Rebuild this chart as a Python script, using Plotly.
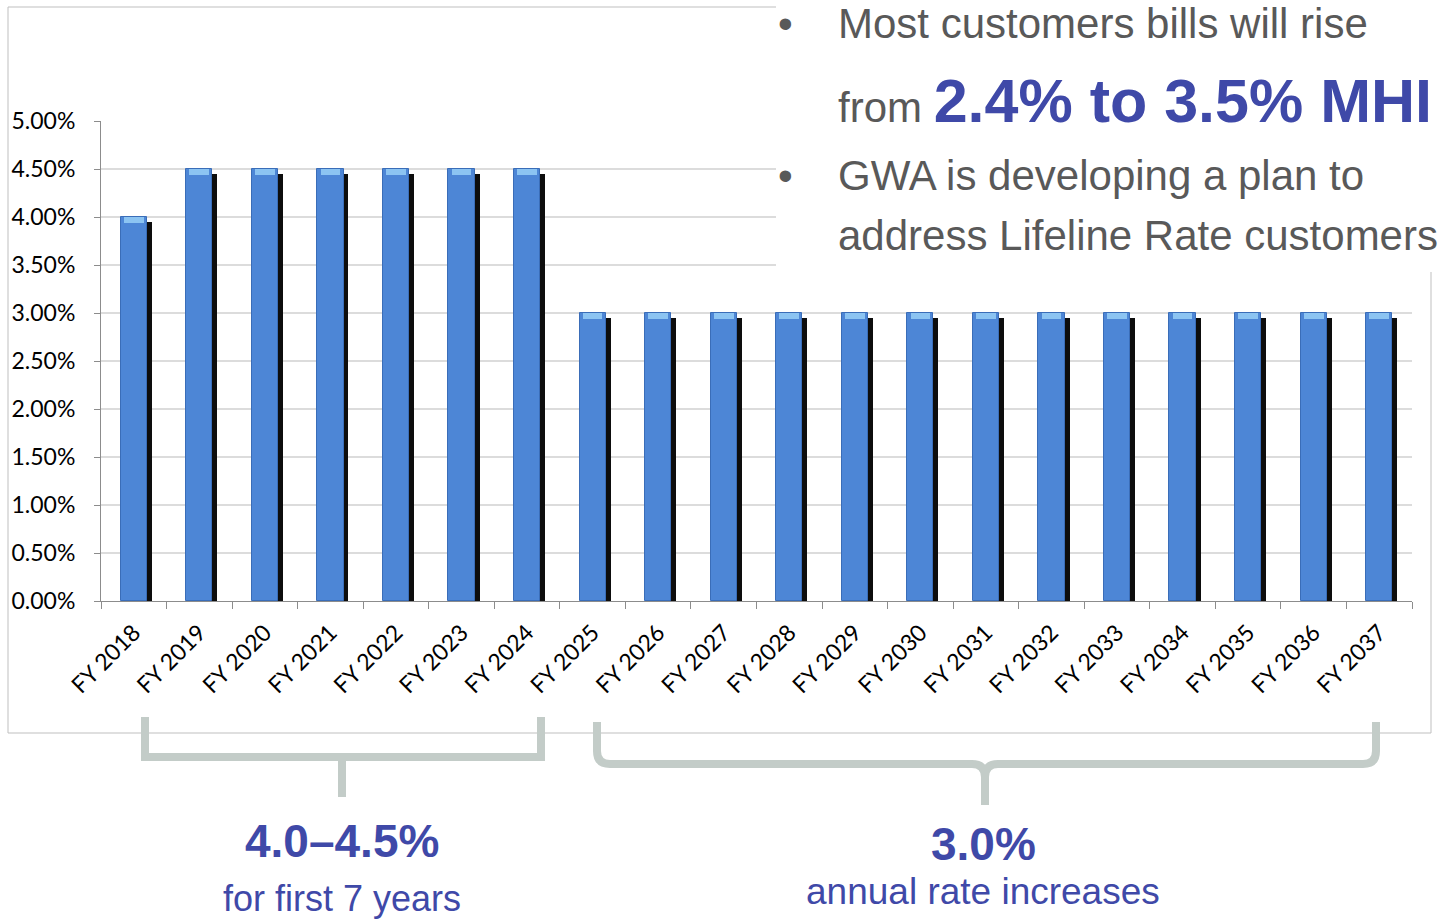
import plotly.graph_objects as go

# ---------------- data ----------------
categories = ["FY 2018", "FY 2019", "FY 2020", "FY 2021", "FY 2022", "FY 2023", "FY 2024",
              "FY 2025", "FY 2026", "FY 2027", "FY 2028", "FY 2029", "FY 2030", "FY 2031",
              "FY 2032", "FY 2033", "FY 2034", "FY 2035", "FY 2036", "FY 2037"]
rate_increase = [4.0, 4.5, 4.5, 4.5, 4.5, 4.5, 4.5,
                 3.0, 3.0, 3.0, 3.0, 3.0, 3.0, 3.0,
                 3.0, 3.0, 3.0, 3.0, 3.0, 3.0]
y_ticks = [0, 0.5, 1.0, 1.5, 2.0, 2.5, 3.0, 3.5, 4.0, 4.5, 5.0]
y_tick_labels = ["0.00%", "0.50%", "1.00%", "1.50%", "2.00%", "2.50%", "3.00%",
                 "3.50%", "4.00%", "4.50%", "5.00%"]

# ---------------- layout helpers (pixel -> paper) ----------------
W, H = 1452, 921
L, R, T, B = 101, 1412, 121, 601


def X(px):
    return (px - L) / (R - L)


def Y(py):
    return (B - py) / (B - T)


SHADOW_DROP = 0.05   # shadow top sits slightly lower (in % units)
CAP = 0.06           # light cap band height

shadow_vals = [v - SHADOW_DROP for v in rate_increase]
cap_base = [v - CAP for v in rate_increase]
cap_h = [CAP for _ in rate_increase]

fig = go.Figure()
# drop shadow
fig.add_trace(go.Bar(x=categories, y=shadow_vals, width=0.40, offset=-0.125,
                     marker=dict(color="#0d0d0d", line=dict(width=0)),
                     hoverinfo="skip", showlegend=False))
# main bars
fig.add_trace(go.Bar(x=categories, y=rate_increase, width=0.40, offset=-0.20,
                     marker=dict(color="#4d86d6", line=dict(color="#3a6db8", width=1)),
                     showlegend=False))
# light cap on top of bars
fig.add_trace(go.Bar(x=categories, y=cap_h, base=cap_base, width=0.30, offset=-0.15,
                     marker=dict(color="#8cc4f2", line=dict(width=0)),
                     hoverinfo="skip", showlegend=False))

font_axis = "Lato, Carlito, 'Open Sans', sans-serif"
font_txt = "'Liberation Sans', Arial, sans-serif"
GRAY = "#595959"
BLUE = "#3f49a8"
BRACE = "#c3ccc8"

fig.update_layout(
    width=W, height=H,
    margin=dict(l=L, r=W - R, t=T, b=H - B),
    paper_bgcolor="white", plot_bgcolor="white",
    barmode="overlay", bargap=0,
    xaxis=dict(type="category", tickangle=-45, tickfont=dict(family=font_axis, size=23, color="black"),
               showline=True, linecolor="#8c8c8c", linewidth=1,
               ticks="outside", ticklen=7, tickcolor="#8c8c8c", tickson="boundaries",
               ticklabelstandoff=8,
               showgrid=False, range=[-0.5, len(categories) - 0.5], fixedrange=True),
    yaxis=dict(range=[0, 5], tickvals=y_ticks, ticktext=y_tick_labels,
               tickfont=dict(family=font_axis, size=23, color="black"),
               showline=True, linecolor="#8c8c8c", linewidth=1,
               ticks="outside", ticklen=6, tickcolor="#8c8c8c", ticklabelstandoff=14,
               showgrid=True, gridcolor="#dcdcdc", gridwidth=1.5, zeroline=False, fixedrange=True),
)

shapes = []
# chart frame
shapes.append(dict(type="rect", xref="paper", yref="paper", x0=X(8), x1=X(1431), y0=Y(733), y1=Y(7),
                   line=dict(color="#bfbfbf", width=1), fillcolor="rgba(0,0,0,0)", layer="above"))
# text box (white) overlapping the chart
shapes.append(dict(type="rect", xref="paper", yref="paper", x0=X(776), x1=X(1460), y0=Y(272), y1=Y(-5),
                   line=dict(width=0), fillcolor="white", layer="above"))


def P(pts_cmds):
    out = []
    for c in pts_cmds:
        if isinstance(c, str):
            out.append(c)
        else:
            out.append(f"{X(c[0]):.5f},{Y(c[1]):.5f}")
    return " ".join(out)


# left bracket
left_path = P(["M", (145, 717), "L", (145, 757), "L", (541, 757), "L", (541, 717),
               "M", (342, 757), "L", (342, 797)])
shapes.append(dict(type="path", xref="paper", yref="paper", path=left_path,
                   line=dict(color=BRACE, width=8), layer="above"))
# right curly brace
right_path = P(["M", (597, 722), "L", (597, 751), "Q", (597, 764), (610, 764),
                "L", (972, 764), "Q", (985, 764), (985, 777), "L", (985, 805),
                "M", (985, 777), "Q", (985, 764), (998, 764),
                "L", (1363, 764), "Q", (1376, 764), (1376, 751), "L", (1376, 722)])
shapes.append(dict(type="path", xref="paper", yref="paper", path=right_path,
                   line=dict(color=BRACE, width=8), layer="above"))
fig.update_layout(shapes=shapes)


def ann(text, x, y, size, color, xanchor="left", bold=False):
    if bold:
        text = f"<b>{text}</b>"
    fig.add_annotation(text=text, x=X(x), y=Y(y), xref="paper", yref="paper",
                       xanchor=xanchor, yanchor="middle", showarrow=False,
                       font=dict(family=font_txt, size=size, color=color))


# top-right bullet text
ann("•", 785, 38 - 0.35 * 42, 42, GRAY, xanchor="center")
ann("Most customers bills will rise", 836, 38 - 0.35 * 42, 42, GRAY)
ann("from <span style='font-size:61px;color:" + BLUE + "'><b>2.4% to 3.5% MHI</b></span>",
    836, 122 - 0.35 * 61, 42, GRAY)
ann("•", 785, 190 - 0.35 * 42, 42, GRAY, xanchor="center")
ann("GWA is developing a plan to", 836, 190 - 0.35 * 42, 42, GRAY)
ann("address Lifeline Rate customers", 836, 250 - 0.35 * 42, 42, GRAY)

# bottom labels
ann("4.0–4.5%", 342, 857 - 0.35 * 46, 46, BLUE, xanchor="center", bold=True)
ann("for first 7 years", 342, 911 - 0.35 * 36, 36, BLUE, xanchor="center")
ann("3.0%", 983, 860 - 0.35 * 46, 46, BLUE, xanchor="center", bold=True)
ann("annual rate increases", 983, 904 - 0.35 * 37, 37, BLUE, xanchor="center")

fig.write_html("out.html", config={"displayModeBar": False},
               post_script="document.body.style.margin='0';document.body.style.overflow='hidden';")
